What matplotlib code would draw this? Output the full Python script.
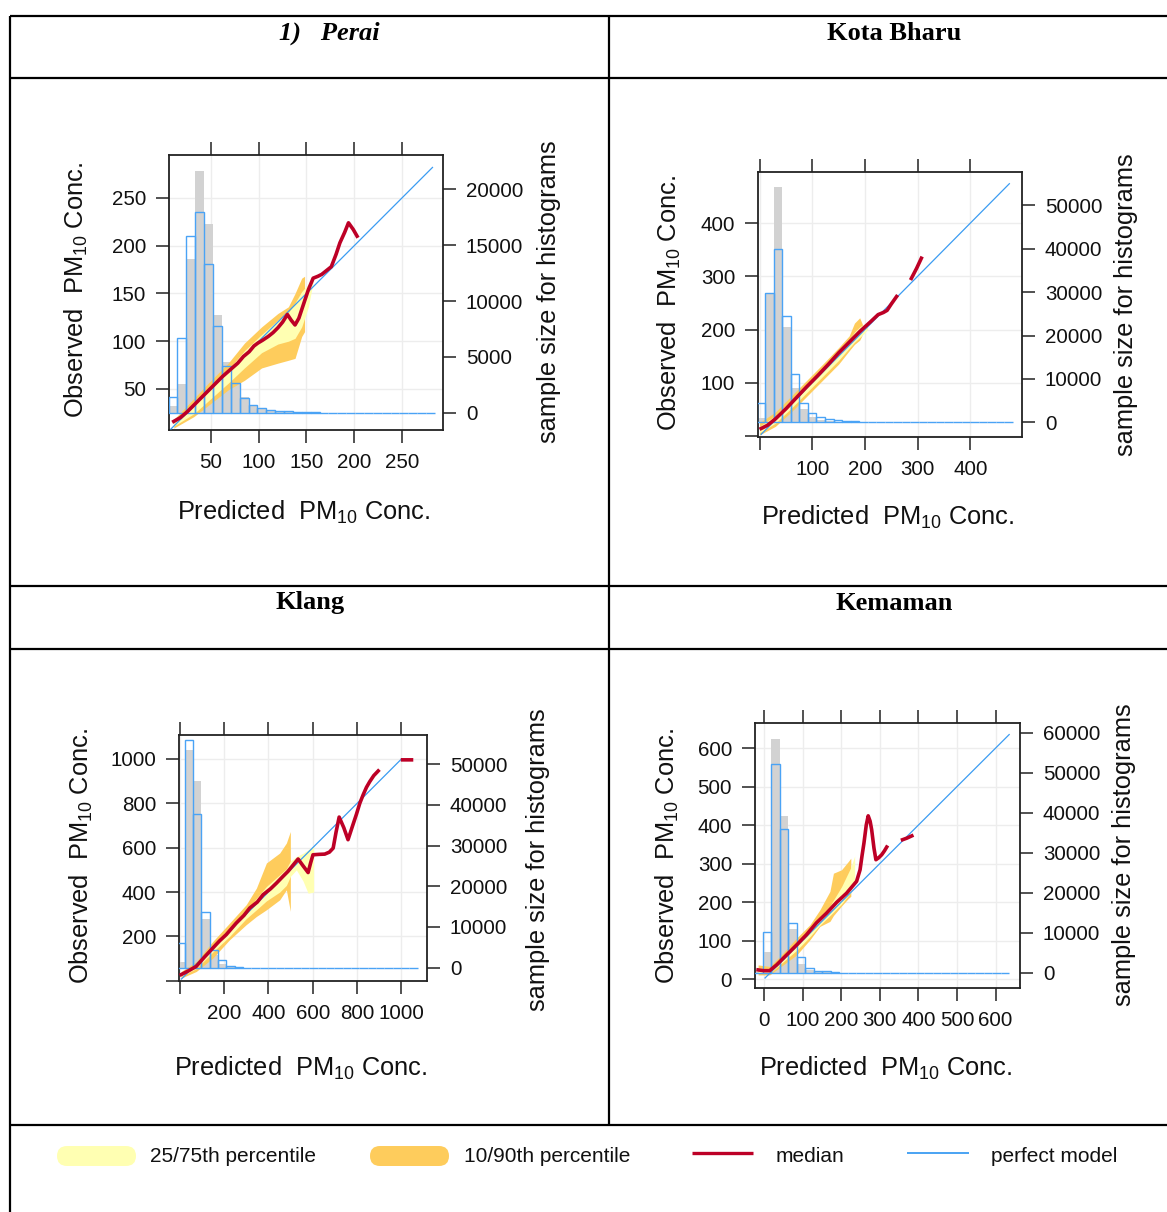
import numpy as np
import matplotlib
matplotlib.use("Agg")
import matplotlib.pyplot as plt
from matplotlib.patches import FancyBboxPatch

plt.rcParams['font.family'] = ['Liberation Sans', 'DejaVu Sans']
plt.rcParams['mathtext.fontset'] = 'custom'
plt.rcParams['mathtext.rm'] = 'Liberation Sans'

# ---------------- data ----------------
# Perai
perai_med_x = [11, 18, 25, 34, 43, 52, 62, 70, 78, 84, 90, 95, 99, 104, 110, 115, 120, 125, 130, 134, 138, 142, 145, 149, 152, 157, 162, 166, 171, 176, 181, 185, 190, 194, 199, 203]
perai_med_y = [16, 20, 26, 35, 44, 53, 63, 70, 77, 84, 89, 95, 98, 101, 105, 109, 114, 120, 128, 122, 117, 124, 133, 145, 154, 166, 168, 170, 174, 178, 191, 203, 214, 224, 217, 210]
perai_perf = [8, 282]
perai_b1_x = [11, 32, 50, 68, 85, 103, 120, 131, 138, 145, 148]
perai_q90 = [18, 40, 59, 77, 98, 115, 129, 136, 150, 166, 168]
perai_q10 = [9, 21, 35, 49, 59, 72, 77, 80, 82, 105, 110]
perai_b2_x = [11, 32, 50, 68, 85, 103, 120, 131, 138, 145, 152, 157]
perai_q75 = [15, 32, 52, 70, 90, 107, 122, 130, 140, 152, 160, 164]
perai_q25 = [11, 24, 40, 56, 72, 88, 97, 100, 103, 115, 136, 162]
perai_hist_start, perai_hist_width = 5.6, 9.3
perai_hist_pred = [1460, 6730, 15770, 17980, 13300, 7740, 4230, 2650, 1370, 710, 480, 300, 180, 150, 120, 90, 60, 0, 0, 0, 0, 0, 0, 0, 0, 0, 0, 0, 0, 0]
perai_hist_obs = [600, 2590, 13750, 21640, 16840, 8780, 4520, 2740, 1400, 650, 400, 250, 150, 100, 80, 60, 40, 0, 0, 0, 0, 0, 0, 0, 0, 0, 0, 0, 0, 0]

# Kota Bharu
kb_med_x = [3, 15, 30, 50, 70, 90, 110, 130, 150, 170, 190, 210, 225, 235, 242, 250, 260, np.nan, 288, 298, 307]
kb_med_y = [14, 20, 32, 51, 72, 93, 113, 134, 156, 176, 196, 214, 228, 232, 236, 248, 262, np.nan, 296, 315, 334]
kb_perf = [3, 474]
kb_b1_x = [0, 30, 60, 90, 120, 150, 170, 180, 190, 195]
kb_q90 = [25, 45, 75, 105, 135, 166, 188, 212, 222, 210]
kb_q10 = [2, 18, 45, 75, 105, 135, 160, 172, 180, 190]
kb_b2_x = [0, 30, 60, 90, 120, 150, 170, 180, 190, 198, 205]
kb_q75 = [18, 38, 68, 98, 128, 160, 180, 195, 205, 210, 212]
kb_q25 = [6, 24, 52, 82, 112, 142, 165, 176, 185, 192, 200]
kb_hist_start, kb_hist_width = -5.5, 16.2
kb_hist_pred = [4530, 29720, 39940, 24580, 11140, 4530, 2230, 1150, 770, 540, 380, 200, 100, 50, 0, 0, 0, 0, 0, 0, 0, 0, 0, 0, 0, 0, 0, 0, 0, 0]
kb_hist_obs = [1000, 29700, 54300, 22040, 7830, 3000, 1300, 600, 300, 150, 80, 40, 0, 0, 0, 0, 0, 0, 0, 0, 0, 0, 0, 0, 0, 0, 0, 0, 0, 0]

# Klang
klang_med_x = [7, 40, 75, 110, 150, 180, 210, 255, 290, 316, 350, 376, 410, 436, 465, 488, 510, 534, 555, 579, 590, 601, 630, 654, 675, 692, 705, 719, 740, 759, 780, 797, 812, 827, 842, 857, 875, 895, np.nan, 1005, 1045]
klang_med_y = [28, 45, 65, 105, 148, 180, 208, 260, 295, 328, 355, 388, 415, 440, 470, 493, 520, 549, 520, 488, 530, 568, 570, 571, 580, 598, 670, 738, 690, 636, 700, 751, 800, 838, 872, 898, 925, 946, np.nan, 996, 996]
klang_perf = [8, 1000]
klang_b1_x = [7, 75, 150, 225, 300, 346, 391, 451, 481, 499]
klang_q90 = [42, 87, 178, 260, 343, 418, 531, 576, 621, 673]
klang_q10 = [12, 42, 103, 185, 253, 290, 320, 365, 410, 313]
klang_b2_x = [7, 75, 150, 225, 300, 346, 391, 451, 481, 499, 526, 556, 579, 604]
klang_q75 = [35, 75, 160, 232, 312, 372, 425, 478, 505, 540, 560, 575, 590, 610]
klang_q25 = [20, 55, 130, 200, 280, 320, 360, 400, 430, 470, 500, 450, 395, 400]
klang_hist_start, klang_hist_width = -15, 37.5
klang_hist_pred = [5980, 55940, 37760, 13600, 4340, 1880, 490, 250, 0, 0, 0, 0, 0, 0, 0, 0, 0, 0, 0, 0, 0, 0, 0, 0, 0, 0, 0, 0, 0]
klang_hist_obs = [1470, 53480, 45950, 12000, 3000, 800, 300, 100, 0, 0, 0, 0, 0, 0, 0, 0, 0, 0, 0, 0, 0, 0, 0, 0, 0, 0, 0, 0, 0]

# Kemaman
kem_med_x = [-15, 0, 15, 33, 59, 85, 110, 136, 162, 188, 214, 240, 249, 254, 259, 265, 270, 275, 279, 285, 290, 297, 305, 312, 318, np.nan, 359, 370, 383]
kem_med_y = [24, 22, 22, 37, 63, 89, 115, 146, 171, 199, 223, 254, 284, 320, 353, 400, 424, 410, 388, 340, 310, 315, 323, 333, 343, np.nan, 362, 366, 372]
kem_perf = [3, 635]
kem_b1_x = [-15, 15, 50, 85, 119, 145, 171, 180, 201, 219, 225]
kem_q90 = [37, 33, 68, 107, 141, 180, 228, 275, 284, 306, 314]
kem_q10 = [11, 11, 37, 63, 102, 137, 150, 165, 190, 210, 215]
kem_b2_x = [-15, 15, 50, 85, 119, 145, 171, 201, 225, 235]
kem_q75 = [30, 26, 58, 95, 128, 158, 190, 240, 290, 320]
kem_q25 = [15, 15, 45, 75, 110, 140, 165, 195, 225, 255]
kem_hist_start, kem_hist_width = -25.4, 22
kem_hist_pred = [0, 10250, 52170, 36080, 12580, 4000, 1250, 500, 400, 200, 0, 0, 0, 0, 0, 0, 0, 0, 0, 0, 0, 0, 0, 0, 0, 0, 0, 0, 0, 0]
kem_hist_obs = [300, 5250, 58580, 39160, 11080, 2330, 670, 300, 150, 0, 0, 0, 0, 0, 0, 0, 0, 0, 0, 0, 0, 0, 0, 0, 0, 0, 0, 0, 0, 0]

station_titles = ["1)   Perai", "Kota Bharu", "Klang", "Kemaman"]
legend_labels = ["25/75th percentile", "10/90th percentile", "median", "perfect model"]

COL_Q25 = "#FFFFB2"
COL_Q10 = "#FECC5C"
COL_MED = "#BD0026"
COL_PERF = "#3B9CF2"
COL_HOBS = "#D2D2D2"
COL_HPRED = "#4AA3F5"
COL_GRID = "#EDEDED"

W, H = 1167, 1212
fig = plt.figure(figsize=(W / 100, H / 100), dpi=100)
bg = fig.add_axes([0, 0, 1, 1], zorder=-10)
bg.set_xlim(0, W)
bg.set_ylim(H, 0)
bg.axis('off')

LAB = 18.3
TICK = 14.8


def draw_panel(box, xlim, ylim, hlim, xticks, xlabels, yticks, ylabels, hticks,
               hstart, hwidth, hobs, hpred, b1x, q10, q90, b2x, q25, q75,
               medx, medy, perf, labpos):
    l, t, r, b = box
    ax = fig.add_axes([l / W, 1 - b / H, (r - l) / W, (b - t) / H])
    ax2 = ax.twinx()
    ax.set_xlim(xlim)
    ax.set_ylim(ylim)
    ax2.set_ylim(hlim)
    edges = hstart + hwidth * np.arange(len(hobs))
    ax.bar(edges, hobs, width=hwidth, align='edge', color=COL_HOBS, lw=0,
           transform=ax2.transData, zorder=1)
    ax.fill_between(b1x, q10, q90, color=COL_Q10, lw=0, zorder=2)
    ax.fill_between(b2x, q25, q75, color=COL_Q25, lw=0, zorder=3)
    ax.bar(edges, hpred, width=hwidth, align='edge', fill=False,
           edgecolor=COL_HPRED, lw=1.0, transform=ax2.transData, zorder=4)
    ax.plot(perf, perf, color=COL_PERF, lw=0.9, zorder=5)
    ax.plot(medx, medy, color=COL_MED, lw=2.6, zorder=6)
    ax.set_xlim(xlim)
    ax.set_ylim(ylim)
    ax2.set_ylim(hlim)

    ax.set_axisbelow(True)
    ax.grid(True, color=COL_GRID, lw=1)
    ax.set_xticks(xticks, xlabels)
    ax.set_yticks(yticks, ylabels)
    ax2.set_yticks(hticks, [str(v) for v in hticks])
    for a in (ax, ax2):
        a.tick_params(direction='out', length=9.5, width=1.1, labelsize=TICK,
                      pad=7, color='#222222', labelcolor='#111111')
    ax.tick_params(axis='x', top=True, labeltop=False)
    ax.tick_params(axis='y', right=False)
    for s in ax.spines.values():
        s.set_linewidth(1.3)
        s.set_color('#222222')
    for s in ax2.spines.values():
        s.set_visible(False)

    (lx, ly), (rx, ry), (bx, by) = labpos
    bg.text(lx, ly, "Observed  PM$_{\\mathregular{10}}$ Conc.", rotation=90,
            ha='center', va='center', fontsize=LAB, color='#111111')
    bg.text(rx, ry, "sample size for histograms", rotation=90,
            ha='center', va='center', fontsize=LAB, color='#111111')
    bg.text(bx, by, "Predicted  PM$_{\\mathregular{10}}$ Conc.",
            ha='center', va='center', fontsize=LAB, color='#111111')


draw_panel((169, 155, 443, 430), (6, 293), (7, 295), (-1518, 23036),
           [50, 100, 150, 200, 250], ['50', '100', '150', '200', '250'],
           [50, 100, 150, 200, 250], ['50', '100', '150', '200', '250'],
           [0, 5000, 10000, 15000, 20000],
           perai_hist_start, perai_hist_width, perai_hist_obs, perai_hist_pred,
           perai_b1_x, perai_q10, perai_q90, perai_b2_x, perai_q25, perai_q75,
           perai_med_x, perai_med_y, perai_perf,
           ((76, 290), (549, 292), (304, 512)))

draw_panel((758, 172, 1022, 437), (-3, 498), (-2, 496), (-3387, 57673),
           [0, 100, 200, 300, 400], ['', '100', '200', '300', '400'],
           [0, 100, 200, 300, 400], ['', '100', '200', '300', '400'],
           [0, 10000, 20000, 30000, 40000, 50000],
           kb_hist_start, kb_hist_width, kb_hist_obs, kb_hist_pred,
           kb_b1_x, kb_q10, kb_q90, kb_b2_x, kb_q25, kb_q75,
           kb_med_x, kb_med_y, kb_perf,
           ((669, 303), (1126, 305), (888, 517)))

draw_panel((179, 735, 427, 981), (-3, 1115), (-1, 1108), (-3268, 57174),
           [0, 200, 400, 600, 800, 1000], ['', '200', '400', '600', '800', '1000'],
           [0, 200, 400, 600, 800, 1000], ['', '200', '400', '600', '800', '1000'],
           [0, 10000, 20000, 30000, 40000, 50000],
           klang_hist_start, klang_hist_width, klang_hist_obs, klang_hist_pred,
           klang_b1_x, klang_q10, klang_q90, klang_b2_x, klang_q25, klang_q75,
           klang_med_x, klang_med_y, klang_perf,
           ((81, 856), (538, 860), (301, 1068)))

draw_panel((755, 723, 1020, 988), (-23, 663), (-23, 665), (-3750, 62500),
           [0, 100, 200, 300, 400, 500, 600], ['0', '100', '200', '300', '400', '500', '600'],
           [0, 100, 200, 300, 400, 500, 600], ['0', '100', '200', '300', '400', '500', '600'],
           [0, 10000, 20000, 30000, 40000, 50000, 60000],
           kem_hist_start, kem_hist_width, kem_hist_obs, kem_hist_pred,
           kem_b1_x, kem_q10, kem_q90, kem_b2_x, kem_q25, kem_q75,
           kem_med_x, kem_med_y, kem_perf,
           ((667, 856), (1124, 855), (886, 1068)))

# ---------------- table frame ----------------
LW = 1.6
for yy in (16, 78, 586, 649, 1125):
    bg.plot([10, W], [yy, yy], color='black', lw=LW, solid_capstyle='butt')
bg.plot([10, 10], [16, H], color='black', lw=LW, solid_capstyle='butt')
bg.plot([609, 609], [16, 1125], color='black', lw=LW, solid_capstyle='butt')

hdr = dict(fontfamily='Liberation Serif', fontweight='bold', fontsize=19,
           ha='center', va='center', color='black')
bg.text(329, 33, station_titles[0], fontstyle='italic', **hdr)
bg.text(894, 33, station_titles[1], **hdr)
bg.text(310, 603, station_titles[2], **hdr)
bg.text(894, 603, station_titles[3], **hdr)

# ---------------- legend ----------------
bg.add_patch(FancyBboxPatch((57, 1146), 79, 20, boxstyle="round,pad=0,rounding_size=10",
                            facecolor=COL_Q25, edgecolor='none'))
bg.add_patch(FancyBboxPatch((370, 1146), 79, 20, boxstyle="round,pad=0,rounding_size=10",
                            facecolor=COL_Q10, edgecolor='none'))
bg.plot([692, 753], [1153, 1153], color=COL_MED, lw=2.4, solid_capstyle='butt')
bg.plot([907, 969], [1153, 1153], color=COL_PERF, lw=1.3, solid_capstyle='butt')
leg = dict(fontsize=15, ha='left', va='center', color='#111111')
bg.text(150, 1156, legend_labels[0], **leg)
bg.text(464, 1156, legend_labels[1], **leg)
bg.text(776, 1156, legend_labels[2], **leg)
bg.text(991, 1156, legend_labels[3], **leg)

fig.savefig("out.png", dpi=100)
